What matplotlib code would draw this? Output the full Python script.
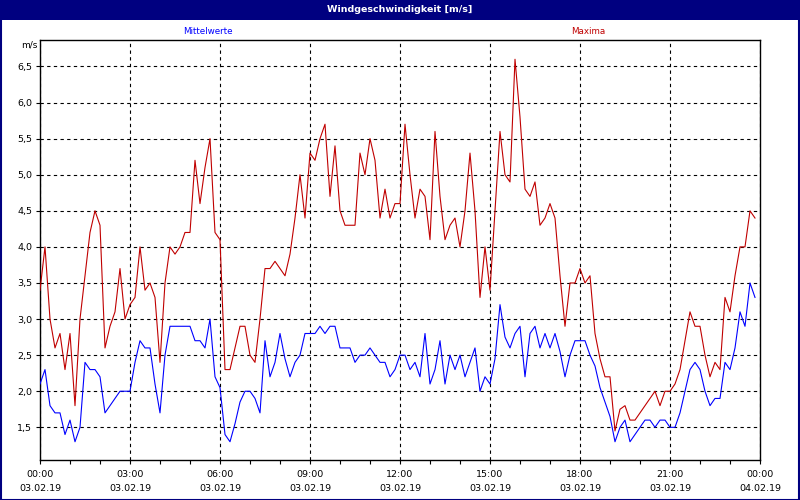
import matplotlib
matplotlib.use("Agg")
import matplotlib.pyplot as plt
from matplotlib.ticker import FixedLocator, FuncFormatter, MultipleLocator
from matplotlib.patches import Rectangle
import numpy as np

# ---- data (10-minute values, 03.02.19 00:00 .. 23:50) ----
maxima = [3.4, 4.0, 3.0, 2.6, 2.8, 2.3, 2.8, 1.8, 3.0, 3.6,
          4.2, 4.5, 4.3, 2.6, 2.9, 3.1, 3.7, 3.0, 3.2, 3.3,
          4.0, 3.4, 3.5, 3.3, 2.4, 3.5, 4.0, 3.9, 4.0, 4.2,
          4.2, 5.2, 4.6, 5.1, 5.5, 4.2, 4.1, 2.3, 2.3, 2.6,
          2.9, 2.9, 2.5, 2.4, 3.0, 3.7, 3.7, 3.8, 3.7, 3.6,
          3.9, 4.4, 5.0, 4.4, 5.3, 5.2, 5.5, 5.7, 4.7, 5.4,
          4.5, 4.3, 4.3, 4.3, 5.3, 5.0, 5.5, 5.2, 4.4, 4.8,
          4.4, 4.6, 4.6, 5.7, 5.0, 4.4, 4.8, 4.7, 4.1, 5.6,
          4.7, 4.1, 4.3, 4.4, 4.0, 4.5, 5.3, 4.5, 3.3, 4.0,
          3.4, 4.5, 5.6, 5.0, 4.9, 6.6, 5.8, 4.8, 4.7, 4.9,
          4.3, 4.4, 4.6, 4.4, 3.6, 2.9, 3.5, 3.5, 3.7, 3.5,
          3.6, 2.8, 2.45, 2.2, 2.2, 1.45, 1.75, 1.8, 1.6, 1.6,
          1.7, 1.8, 1.9, 2.0, 1.8, 2.0, 2.0, 2.1, 2.3, 2.7,
          3.1, 2.9, 2.9, 2.5, 2.2, 2.4, 2.3, 3.3, 3.1, 3.6,
          4.0, 4.0, 4.5, 4.4]

mittelwerte = [2.1, 2.3, 1.8, 1.7, 1.7, 1.4, 1.6, 1.3, 1.5, 2.4,
               2.3, 2.3, 2.2, 1.7, 1.8, 1.9, 2.0, 2.0, 2.0, 2.4,
               2.7, 2.6, 2.6, 2.1, 1.7, 2.5, 2.9, 2.9, 2.9, 2.9,
               2.9, 2.7, 2.7, 2.6, 3.0, 2.2, 2.05, 1.4, 1.3, 1.55,
               1.85, 2.0, 2.0, 1.9, 1.7, 2.7, 2.2, 2.4, 2.8, 2.45,
               2.2, 2.4, 2.5, 2.8, 2.8, 2.8, 2.9, 2.8, 2.9, 2.9,
               2.6, 2.6, 2.6, 2.4, 2.5, 2.5, 2.6, 2.5, 2.4, 2.4,
               2.2, 2.3, 2.5, 2.5, 2.3, 2.4, 2.2, 2.8, 2.1, 2.3,
               2.7, 2.1, 2.5, 2.3, 2.5, 2.2, 2.4, 2.6, 2.0, 2.2,
               2.1, 2.45, 3.2, 2.75, 2.6, 2.8, 2.9, 2.2, 2.8, 2.9,
               2.6, 2.8, 2.6, 2.8, 2.55, 2.2, 2.5, 2.7, 2.7, 2.7,
               2.5, 2.35, 2.05, 1.85, 1.65, 1.3, 1.5, 1.6, 1.3, 1.4,
               1.5, 1.6, 1.6, 1.5, 1.6, 1.6, 1.5, 1.5, 1.7, 2.0,
               2.3, 2.4, 2.3, 2.0, 1.8, 1.9, 1.9, 2.4, 2.3, 2.6,
               3.1, 2.9, 3.5, 3.3]

x_tick_hours = [0, 3, 6, 9, 12, 15, 18, 21, 24]
x_tick_labels = ["00:00\n03.02.19", "03:00\n03.02.19", "06:00\n03.02.19",
                 "09:00\n03.02.19", "12:00\n03.02.19", "15:00\n03.02.19",
                 "18:00\n03.02.19", "21:00\n03.02.19", "00:00\n04.02.19"]
y_ticks = [1.5, 2.0, 2.5, 3.0, 3.5, 4.0, 4.5, 5.0, 5.5, 6.0, 6.5]

title = "Windgeschwindigkeit [m/s]"
navy = "#000080"
red = "#C00000"
blue = "#0000FF"

hours = np.arange(len(maxima)) / 6.0

fig = plt.figure(figsize=(8, 5), dpi=100)
fig.patch.set_facecolor("white")

# title bar and outer frame
fig.patches.append(Rectangle((0, 1 - 20 / 500), 1, 20 / 500, transform=fig.transFigure,
                             facecolor=navy, edgecolor="none", zorder=0))
fig.patches.append(Rectangle((0.5 / 800, 0.5 / 500), 1 - 1.5 / 800, 1 - 1.5 / 500,
                             transform=fig.transFigure, facecolor="none",
                             edgecolor=navy, linewidth=1.5, zorder=5))
fig.text(0.5, 1 - 10 / 500, title, color="white", fontsize=6.8, fontweight="bold",
         ha="center", va="center")
fig.text(208 / 800, 1 - 31 / 500, "Mittelwerte", color=blue, fontsize=6.3,
         ha="center", va="center")
fig.text(588 / 800, 1 - 31 / 500, "Maxima", color=red, fontsize=6.3,
         ha="center", va="center")
fig.text(37 / 800, 1 - 45 / 500, "m/s", color="black", fontsize=6.5,
         ha="right", va="center")

ax = fig.add_axes([40 / 800, 40 / 500, 720 / 800, 420 / 500])
ax.set_facecolor("white")
ax.plot(hours, maxima, color=red, lw=0.8, zorder=3)
ax.plot(hours, mittelwerte, color=blue, lw=0.8, zorder=3)

ax.set_xlim(0, 24)
ax.set_ylim(1.047, 6.867)
ax.xaxis.set_major_locator(FixedLocator(x_tick_hours))
ax.set_xticklabels(x_tick_labels)
ax.xaxis.set_minor_locator(MultipleLocator(1))
ax.yaxis.set_major_locator(FixedLocator(y_ticks))
ax.yaxis.set_major_formatter(FuncFormatter(lambda v, p: f"{v:.1f}".replace(".", ",")))

ax.grid(True, which="major", color="black", linestyle=(0, (3, 3)), linewidth=0.8)
ax.tick_params(axis="both", which="major", length=3, width=0.8, color="black",
               labelsize=6.8, labelcolor="black", pad=2.5)
ax.tick_params(axis="x", which="minor", length=3, width=0.8, color="black")
ax.tick_params(axis="x", which="major", pad=4)
for lbl in ax.get_xticklabels():
    lbl.set_linespacing(1.8)
for s in ax.spines.values():
    s.set_color("black")
    s.set_linewidth(1.0)

fig.savefig("out.png", dpi=100)
